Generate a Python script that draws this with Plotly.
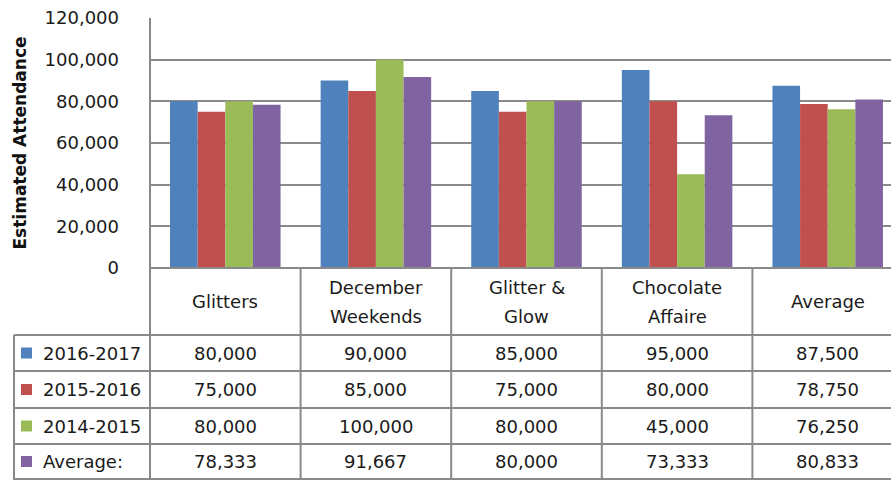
import plotly.graph_objects as go

categories = ["Glitters", "December Weekends", "Glitter & Glow", "Chocolate Affaire", "Average"]
header_labels = [["Glitters"], ["December", "Weekends"], ["Glitter &", "Glow"],
                 ["Chocolate", "Affaire"], ["Average"]]
series_names = ["2016-2017", "2015-2016", "2014-2015", "Average:"]
s2016_2017 = [80000, 90000, 85000, 95000, 87500]
s2015_2016 = [75000, 85000, 75000, 80000, 78750]
s2014_2015 = [80000, 100000, 80000, 45000, 76250]
s_average = [78333, 91667, 80000, 73333, 80833]
series_values = [s2016_2017, s2015_2016, s2014_2015, s_average]
colors = ["#4F81BD", "#C0504D", "#9BBB59", "#8064A2"]
y_ticks = [0, 20000, 40000, 60000, 80000, 100000, 120000]
y_title = "Estimated Attendance"

W, H = 891, 480
L, T, B_PX = 150, 18, 268  # plot area pixel edges
R = W
pw, ph = R - L, B_PX - T
cat_w = 150.6
x_span = pw / cat_w
xr = [-0.5, -0.5 + x_span]

def px_to_py(py):
    return (B_PX - py) / ph

def px_to_px(px):
    return (px - L) / pw

FONT = "'DejaVu Sans', sans-serif"
FS = 18
TXT = "#1a1a1a"
GRID = "#8a8a8a"

fig = go.Figure()
for name, vals, c in zip(series_names, series_values, colors):
    fig.add_trace(go.Bar(x=list(range(len(categories))), y=vals, name=name,
                         marker=dict(color=c, line=dict(width=0)), hoverinfo="skip"))

fig.update_layout(
    width=W, height=H, barmode="group", bargap=0.266, bargroupgap=0,
    margin=dict(l=L, r=0, t=T, b=H - B_PX, pad=0),
    paper_bgcolor="white", plot_bgcolor="white", showlegend=False,
    font=dict(family=FONT, size=FS, color=TXT),
    xaxis=dict(range=xr, showticklabels=False, showgrid=False, zeroline=False,
               ticks="", showline=False, fixedrange=True),
    yaxis=dict(range=[0, 120000], tickvals=y_ticks, tickformat=",", showgrid=True,
               gridcolor=GRID, gridwidth=2, zeroline=False, showline=False, ticks="",
               ticklabelstandoff=30, tickfont=dict(size=FS, color=TXT), fixedrange=True),
)

shapes = []
def hline(x0, x1, py):
    shapes.append(dict(type="line", xref="paper", yref="paper", x0=x0, x1=x1,
                       y0=px_to_py(py), y1=px_to_py(py), line=dict(color=GRID, width=2)))
def vline(x, py0, py1, xref="x"):
    shapes.append(dict(type="line", xref=xref, yref="paper", x0=x, x1=x,
                       y0=px_to_py(py0), y1=px_to_py(py1), line=dict(color=GRID, width=2)))

row_lines = [335, 371, 408, 444, 479]
left_x = px_to_px(14)
hline(0, 1, B_PX)
for py in row_lines:
    hline(left_x, 1, py)
vline(0, T, H, xref="paper")
for i in range(1, len(categories)):
    vline(i - 0.5, B_PX, H)
vline(left_x, row_lines[0], H, xref="paper")

annotations = []
header_center = (B_PX + row_lines[0]) / 2
line_gap = 29
for i, lines in enumerate(header_labels):
    n = len(lines)
    for k, ln in enumerate(lines):
        yc = header_center + (k - (n - 1) / 2) * line_gap
        annotations.append(dict(x=i, y=px_to_py(yc), xref="x", yref="paper",
                                text=ln, showarrow=False, font=dict(size=FS, color=TXT),
                                xanchor="center", yanchor="middle"))
for r, (name, vals, c) in enumerate(zip(series_names, series_values, colors)):
    yc = (row_lines[r] + row_lines[r + 1]) / 2
    for i, v in enumerate(vals):
        annotations.append(dict(x=i, y=px_to_py(yc), xref="x", yref="paper",
                                text=f"{v:,}", showarrow=False,
                                font=dict(size=FS, color=TXT),
                                xanchor="center", yanchor="middle"))
    annotations.append(dict(x=px_to_px(41), y=px_to_py(yc), xref="paper", yref="paper",
                            text=name, showarrow=False, font=dict(size=FS, color=TXT),
                            xanchor="left", yanchor="middle"))
    shapes.append(dict(type="rect", xref="paper", yref="paper",
                       x0=px_to_px(21), x1=px_to_px(32),
                       y0=px_to_py(yc + 5.5), y1=px_to_py(yc - 5.5),
                       fillcolor=c, line=dict(width=0)))

annotations.append(dict(x=px_to_px(19), y=px_to_py(143.5), xref="paper", yref="paper",
                        text=f"<b>{y_title}</b>", textangle=-90, showarrow=False,
                        font=dict(size=17, color="#111"), xanchor="center", yanchor="middle"))

fig.update_layout(shapes=shapes, annotations=annotations)
fig.write_html("out.html")
